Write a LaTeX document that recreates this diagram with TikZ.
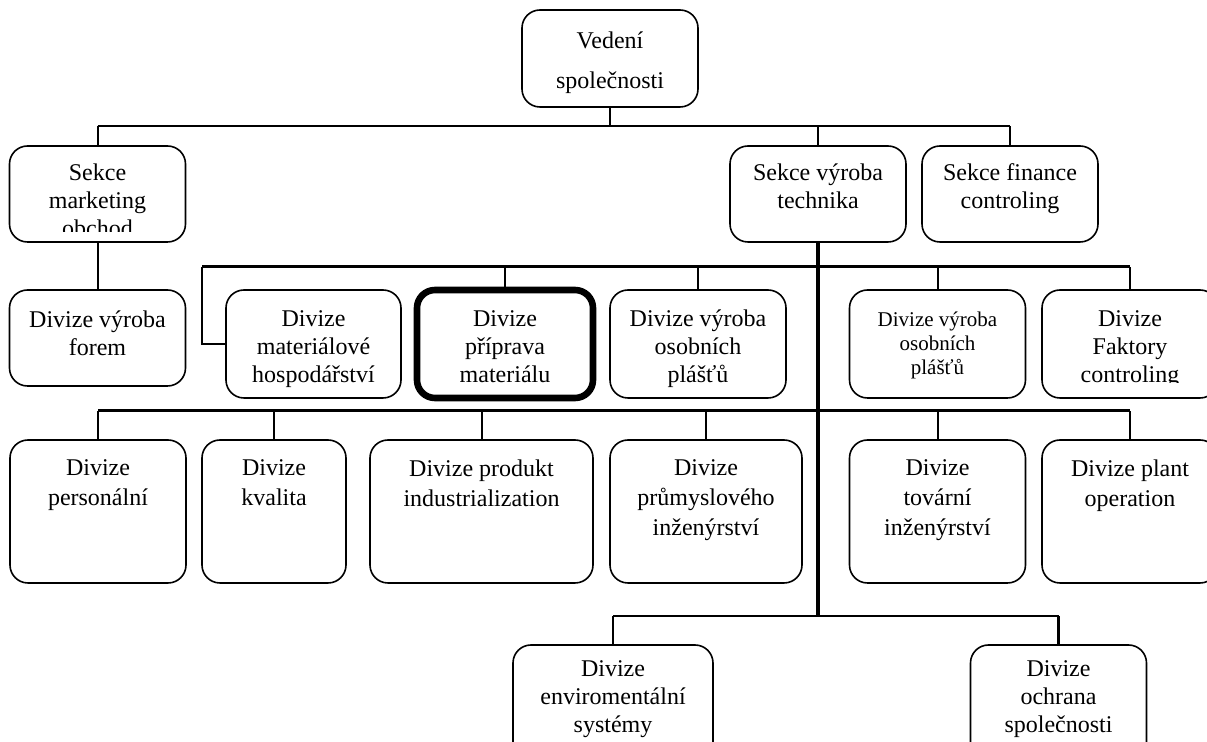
\documentclass[tikz,border=0pt]{standalone}
\usepackage{fontspec}
\setmainfont{Liberation Serif}
\usetikzlibrary{positioning, calc}

\tikzset{
  box/.style={draw, rounded corners=9pt, line width=0.8pt, minimum width=88pt, inner sep=0pt},
  txt/.style={anchor=north, align=center, inner sep=0pt, font=\fontsize{12}{14}\selectfont},
  widetxt/.style={txt, font=\fontsize{12}{15}\selectfont},
  smalltxt/.style={txt, font=\fontsize{10.5}{11.8}\selectfont},
  wire/.style={line width=1pt},
  bus/.style={line width=1.5pt},
  trunk/.style={line width=2pt}
}

\begin{document}
\begin{tikzpicture}[x=0.5pt, y=-0.5pt]
\clip (0,0) rectangle (1207,742);

% boxes
\node[box, minimum height=48.5pt] (ved) at (610,58.5) {};
\node[box, minimum height=48pt] (mark) at (97.5,194) {};
\node[box, minimum height=48pt] (tech) at (818,194) {};
\node[box, minimum height=48pt] (fin) at (1010,194) {};

\node[box, minimum height=48pt] (forem) at (97.5,338) {};
\node[box, minimum width=87.5pt, minimum height=54pt] (mat) at (313.5,344) {};
\node[box, line width=3.3pt, minimum height=54pt] (prip) at (505,344) {};
\node[box, minimum height=54pt] (osob) at (698,344) {};
\node[box, minimum height=54pt] (osobB) at (937.5,344) {};
\node[box, minimum height=54pt] (fakt) at (1130,344) {};

\node[box, minimum height=71.5pt] (pers) at (98,511.5) {};
\node[box, minimum width=72pt, minimum height=71.5pt] (kval) at (274,511.5) {};
\node[box, minimum width=111.5pt, minimum height=71.5pt] (prod) at (481.5,511.5) {};
\node[box, minimum width=96pt, minimum height=71.5pt] (prum) at (706,511.5) {};
\node[box, minimum height=71.5pt] (tov) at (937.5,511.5) {};
\node[box, minimum height=71.5pt] (plant) at (1130,511.5) {};

\node[box, minimum width=100pt, minimum height=71.5pt] (env) at (613,716.5) {};
\node[box, minimum height=71.5pt] (ochr) at (1058.5,716.5) {};

% texts
\node[txt] (vedT) at (610,31.5) {Vedení\\[6pt]společnosti};
\begin{scope}
  \clip (10,146) rectangle (185,232);
  \node[txt] (markT) at (97.5,163.5) {Sekce\\marketing\\obchod};
\end{scope}
\node[txt] (techT) at (818,163.5) {Sekce výroba\\technika};
\node[txt] (finT) at (1010,163.5) {Sekce finance\\controling};

\node[txt] (foremT) at (97.5,310.5) {Divize výroba\\forem};
\node[txt] (matT) at (313.5,310.5) {Divize\\materiálové\\hospodářství};
\node[txt] (pripT) at (505,310.5) {Divize\\příprava\\materiálu};
\node[txt] (osobT) at (698,309) {Divize výroba\\osobních\\plášťů};
\node[smalltxt] (osobBT) at (937.5,312) {Divize výroba\\osobních\\plášťů};
\begin{scope}
  \clip (1042,290) rectangle (1218,383);
  \node[txt] (faktT) at (1130,310.5) {Divize\\Faktory\\controling};
\end{scope}

\node[widetxt] (persT) at (98,459) {Divize\\personální};
\node[widetxt] (kvalT) at (274,459) {Divize\\kvalita};
\node[widetxt] (prodT) at (481.5,459) {Divize produkt\\industrialization};
\node[widetxt] (prumT) at (706,459) {Divize\\průmyslového\\inženýrství};
\node[widetxt] (tovT) at (937.5,459) {Divize\\tovární\\inženýrství};
\node[widetxt] (plantT) at (1130,459) {Divize plant\\operation};

\node[txt] (envT) at (613,660) {Divize\\enviromentální\\systémy};
\node[txt] (ochrT) at (1058.5,660) {Divize\\ochrana\\společnosti};

% connectors
\coordinate (busTop) at (609,126);
\coordinate (busRow2) at (202,267);
\coordinate (busRow3) at (98,411);
\coordinate (busLow) at (818,616);

\draw[wire] (ved.south) -- (ved.south |- busTop);
\draw[line width=1.3pt] (mark.north |- busTop) -- (fin.north |- busTop);
\foreach \n in {mark, tech, fin}
  \draw[wire] (\n.north) -- (\n.north |- busTop);
\draw[wire] (mark.south) -- (forem.north);
\draw[trunk] (tech.south) -- (tech.south |- busLow);

\draw[bus] (busRow2) -- (fakt.north |- busRow2);
\draw[wire] (busRow2) |- (mat.west);
\foreach \n in {prip, osob, osobB, fakt}
  \draw[wire] (\n.north) -- (\n.north |- busRow2);

\draw[bus] (pers.north |- busRow3) -- (plant.north |- busRow3);
\foreach \n in {pers, kval, prod, prum, tov, plant}
  \draw[wire] (\n.north) -- (\n.north |- busRow3);

\draw[line width=1.3pt] (env.north |- busLow) -- (ochr.north |- busLow);
\foreach \n in {env, ochr}
  \draw[line width=1.3pt] (\n.north) -- (\n.north |- busLow);

\end{tikzpicture}
\end{document}
